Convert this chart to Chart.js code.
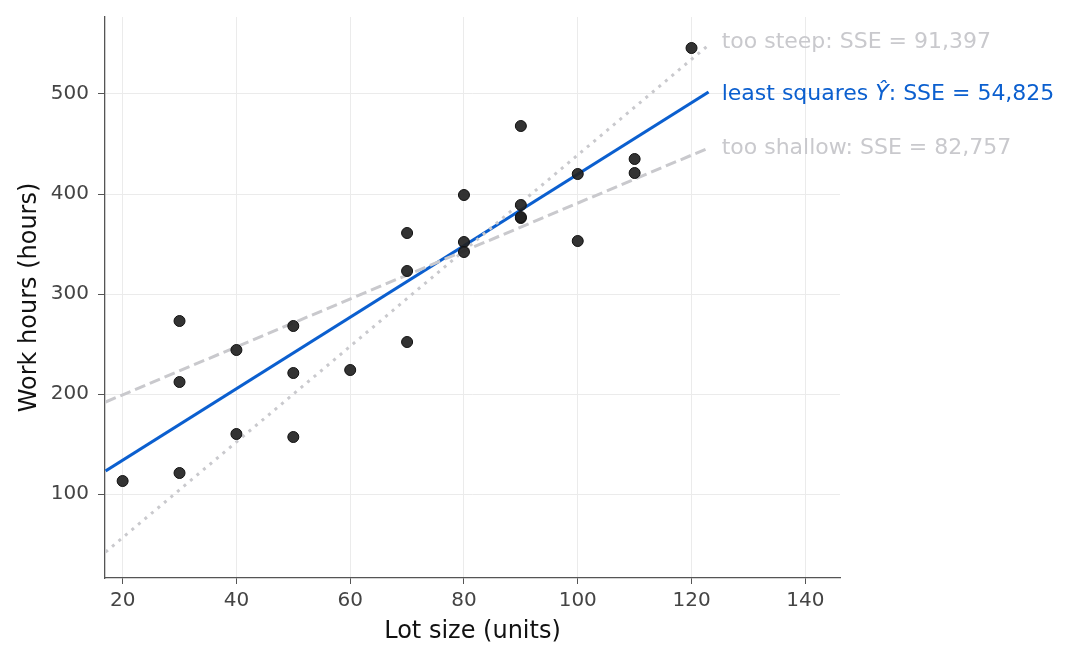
<!DOCTYPE html>
<html>
<head>
<meta charset="utf-8">
<script src="https://cdn.jsdelivr.net/npm/chart.js@4"></script>
<style>
  html, body { margin: 0; padding: 0; background: #fff; }
</style>
</head>
<body>
<canvas id="fit_chart" width="1070" height="663"></canvas>
<script>
// Toluca lot size vs work hours
const lotSize = [80, 30, 50, 90, 70, 60, 120, 80, 100, 50, 40, 70, 90, 20, 110,
                 100, 30, 50, 90, 110, 30, 90, 40, 80, 70];
const workHours = [399, 121, 221, 376, 361, 224, 546, 352, 353, 157, 160, 252, 389, 113, 435,
                   420, 212, 268, 377, 421, 273, 468, 244, 342, 323];

// candidate lines, read at both ends of the plotted range
const lineX = [17, 123];
const leastSquaresY = [123, 502];
const tooSteepY = [42, 549];
const tooShallowY = [192, 446];

const xTicks = [20, 40, 60, 80, 100, 120, 140];
const yTicks = [100, 200, 300, 400, 500];

const lineLabels = [
    { y: 552, parts: [{ t: 'too steep: SSE = 91,397' }], color: '#c9c9cd' },
    { y: 500, parts: [{ t: 'least squares ' }, { t: 'Ŷ', italic: true }, { t: ': SSE = 54,825' }], color: '#0b5fcf' },
    { y: 446, parts: [{ t: 'too shallow: SSE = 82,757' }], color: '#c9c9cd' }
];
const labelX = 125.3;

const pts = (xs, ys) => xs.map((x, i) => ({ x: x, y: ys[i] }));

const labelPlugin = {
    id: 'lineLabels',
    afterDraw(chart) {
        const ctx = chart.ctx;
        const xs = chart.scales.x, ys = chart.scales.y;
        ctx.save();
        ctx.textBaseline = 'middle';
        ctx.textAlign = 'left';
        lineLabels.forEach(l => {
            let px = xs.getPixelForValue(labelX);
            const py = ys.getPixelForValue(l.y);
            ctx.fillStyle = l.color;
            l.parts.forEach(p => {
                ctx.font = (p.italic ? 'italic ' : '') + '22px "DejaVu Sans"';
                ctx.fillText(p.t, px, py);
                px += ctx.measureText(p.t).width;
            });
        });
        ctx.restore();
    }
};

const ctx = document.getElementById('fit_chart').getContext('2d');

new Chart(ctx, {
    type: 'scatter',
    data: {
        datasets: [
            {
                label: 'data',
                data: pts(lotSize, workHours),
                backgroundColor: 'rgba(34, 34, 34, 0.92)',
                borderColor: '#111',
                borderWidth: 1,
                pointRadius: 5.5,
                order: 0
            },
            {
                label: 'too steep',
                data: pts(lineX, tooSteepY),
                showLine: true,
                borderColor: '#c9c9cd',
                borderWidth: 3,
                borderDash: [3, 5.5],
                pointRadius: 0,
                order: 1
            },
            {
                label: 'too shallow',
                data: pts(lineX, tooShallowY),
                showLine: true,
                borderColor: '#c9c9cd',
                borderWidth: 3,
                borderDash: [11, 5],
                pointRadius: 0,
                order: 2
            },
            {
                label: 'least squares',
                data: pts(lineX, leastSquaresY),
                showLine: true,
                borderColor: '#0b5fcf',
                borderWidth: 3.2,
                pointRadius: 0,
                order: 3
            }
        ]
    },
    options: {
        responsive: false,
        devicePixelRatio: 1,
        animation: false,
        layout: { padding: { left: 0, right: 230, top: 17, bottom: 0 } },
        plugins: {
            legend: { display: false },
            tooltip: { enabled: false }
        },
        scales: {
            x: {
                type: 'linear',
                min: 16.9,
                max: 146.1,
                afterBuildTicks: s => { s.ticks = xTicks.map(v => ({ value: v })); },
                afterFit: s => { s.height = 85; s.paddingLeft = 0; s.paddingRight = 0; },
                grid: { color: '#ebebeb', tickColor: '#555', tickLength: 6 },
                border: { color: '#555', width: 1.3 },
                ticks: { color: '#444', font: { family: 'DejaVu Sans', size: 20 }, padding: 5 },
                title: {
                    display: true,
                    text: 'Lot size (units)',
                    color: '#111',
                    font: { family: 'DejaVu Sans', size: 24 },
                    padding: { top: 4, bottom: 17 }
                }
            },
            y: {
                type: 'linear',
                min: 16,
                max: 577,
                afterBuildTicks: s => { s.ticks = yTicks.map(v => ({ value: v })); },
                afterFit: s => { s.width = 105; s.paddingTop = 0; s.paddingBottom = 0; },
                grid: { color: '#ebebeb', tickColor: '#555', tickLength: 7 },
                border: { color: '#555', width: 1.3 },
                ticks: { color: '#444', font: { family: 'DejaVu Sans', size: 20 }, padding: 9 },
                title: {
                    display: true,
                    text: 'Work hours (hours)',
                    color: '#111',
                    font: { family: 'DejaVu Sans', size: 24 },
                    padding: { top: 15, bottom: 0 }
                }
            }
        }
    },
    plugins: [labelPlugin]
});
</script>
</body>
</html>
